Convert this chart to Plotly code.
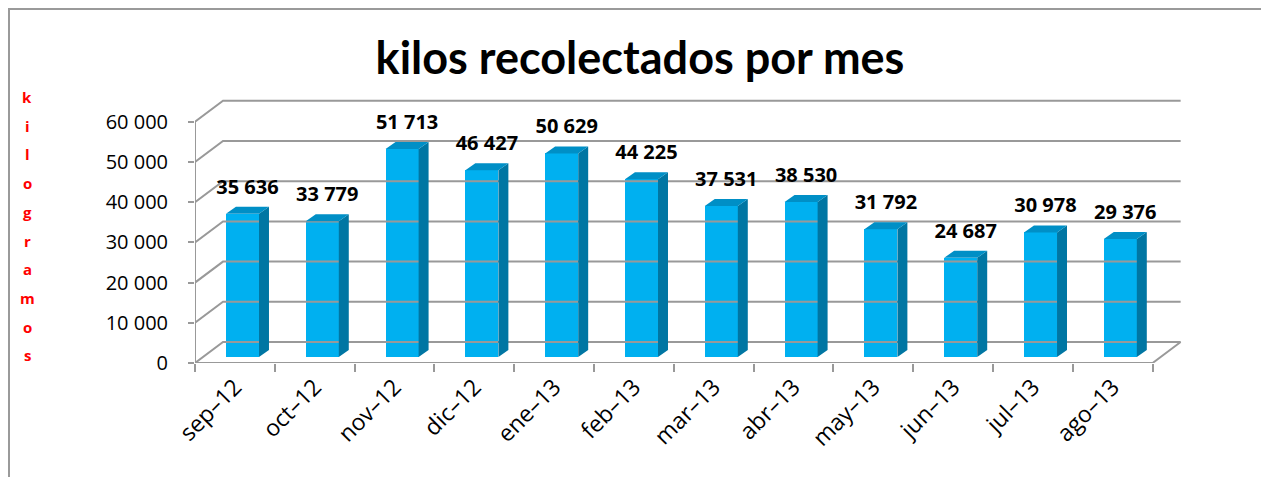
import plotly.graph_objects as go

months = ["sep–12", "oct–12", "nov–12", "dic–12", "ene–13", "feb–13",
          "mar–13", "abr–13", "may–13", "jun–13", "jul–13", "ago–13"]
kilos = [35636, 33779, 51713, 46427, 50629, 44225,
         37531, 38530, 31792, 24687, 30978, 29376]
y_ticks = [0, 10000, 20000, 30000, 40000, 50000, 60000]
title_text = "kilos recolectados por mes"
y_title = "kilogramos"

# 3D geometry (in axis units)
BACK_DX, BACK_DY = 0.351, 5224      # back wall offset
BAR_X0, BAR_Y0 = 0.095, 1493        # bar front-face offset from front plane
BAR_W = 0.414                       # bar width (category units)
BAR_DX, BAR_DY = 0.125, 1741        # bar depth
N = len(months)

FRONT = "#00B0F0"
SIDE = "#0076A3"
TOP = "#008FC6"
GRID = "#999999"

fig = go.Figure()

gx, gy = [], []
for v in y_ticks:
    gx += [0, BACK_DX, N + BACK_DX, None]
    gy += [v, v + BACK_DY, v + BACK_DY, None]
gx += [0, N, N + BACK_DX, None, 0, 0, None]
gy += [0, 0, BACK_DY, None, 0, y_ticks[-1], None]
fig.add_trace(go.Scatter(x=gx, y=gy, mode="lines",
                         line=dict(color=GRID, width=2), hoverinfo="skip",
                         showlegend=False, cliponaxis=False))

centers = [i + 0.5 + BAR_X0 for i in range(N)]
fig.add_trace(go.Bar(x=centers, y=kilos, base=[BAR_Y0] * N, width=BAR_W,
                     marker=dict(color=FRONT, line=dict(width=0)),
                     showlegend=False, hoverinfo="skip"))

sx, sy, tx, ty = [], [], [], []
for c, v in zip(centers, kilos):
    xl, xr = c - BAR_W / 2, c + BAR_W / 2
    yb, yt = BAR_Y0, BAR_Y0 + v
    sx += [xr, xr + BAR_DX, xr + BAR_DX, xr, xr, None]
    sy += [yb, yb + BAR_DY, yt + BAR_DY, yt, yb, None]
    tx += [xl, xr, xr + BAR_DX, xl + BAR_DX, xl, None]
    ty += [yt, yt, yt + BAR_DY, yt + BAR_DY, yt, None]
fig.add_trace(go.Scatter(x=sx, y=sy, mode="lines", fill="toself",
                         fillcolor=SIDE, line=dict(width=0, color=SIDE),
                         hoverinfo="skip", showlegend=False))
fig.add_trace(go.Scatter(x=tx, y=ty, mode="lines", fill="toself",
                         fillcolor=TOP, line=dict(width=0, color=TOP),
                         hoverinfo="skip", showlegend=False))

labels = [f"<b>{v:,}</b>".replace(",", " ") for v in kilos]
fig.add_trace(go.Scatter(x=[c + BAR_DX / 2 for c in centers],
                         y=[BAR_Y0 + v + BAR_DY + 2000 for v in kilos],
                         mode="text", text=labels, textposition="top center",
                         textfont=dict(family="Open Sans", size=20, color="black"),
                         cliponaxis=False, hoverinfo="skip", showlegend=False))

fig.add_trace(go.Scatter(x=[0.5], y=[0], xaxis="x2", mode="markers",
                         marker=dict(opacity=0), hoverinfo="skip", showlegend=False))

# page has an 8px body margin: figure is 1261x469 placed at (8, 8)
W, H = 1261, 469
XR = [0, 12.531]
fig.update_layout(
    width=W, height=H,
    margin=dict(l=187, r=74, t=82, b=114, autoexpand=False),
    paper_bgcolor="white", plot_bgcolor="rgba(0,0,0,0)",
    separators=", ",
    bargap=0,
    xaxis=dict(range=XR, tickvals=list(range(N + 1)), showticklabels=False,
               ticks="outside", ticklen=8, tickcolor=GRID, tickwidth=2,
               showgrid=False, zeroline=False, showline=False, automargin=False),
    xaxis2=dict(range=XR, overlaying="x", side="bottom",
                tickvals=[i + 0.5 for i in range(N)], ticktext=months,
                tickangle=-45, ticks="", showgrid=False, zeroline=False,
                showline=False, automargin=False, ticklabelstandoff=5,
                tickfont=dict(family="Open Sans", size=23, color="black")),
    yaxis=dict(range=[0, 67910], tickvals=y_ticks, tickformat=",d",
               ticks="outside", ticklen=6, tickcolor=GRID, tickwidth=2,
               showgrid=False, zeroline=False, showline=False, automargin=False,
               ticklabelstandoff=16,
               tickfont=dict(family="Open Sans", size=20, color="black")),
    title=dict(text=title_text, x=(640 - 8) / W, y=1 - (58 - 8) / H,
               xanchor="center", yanchor="middle", automargin=False,
               font=dict(family="Lato", size=45, color="black", weight="bold")),
    shapes=[
        dict(type="line", xref="paper", yref="paper",
             x0=(8 - 195) / 1000, x1=(1269 - 195) / 1000,
             y0=(363 - 9) / 273, y1=(363 - 9) / 273,
             line=dict(color="#9A9A9A", width=2)),
        dict(type="line", xref="paper", yref="paper",
             x0=(9 - 195) / 1000, x1=(9 - 195) / 1000,
             y0=(363 - 8) / 273, y1=(363 - 477) / 273,
             line=dict(color="#9A9A9A", width=2)),
    ],
)

for k, ch in enumerate(y_title):
    py = 97 + k * 28.7
    fig.add_annotation(text=f"<b>{ch}</b>", xref="paper", yref="paper",
                       x=(27 - 195) / 1000, y=(363 - py) / 273,
                       xanchor="center", yanchor="middle", showarrow=False,
                       font=dict(family="Open Sans", size=15, color="#FF0000"))

fig.write_html("out.html")
